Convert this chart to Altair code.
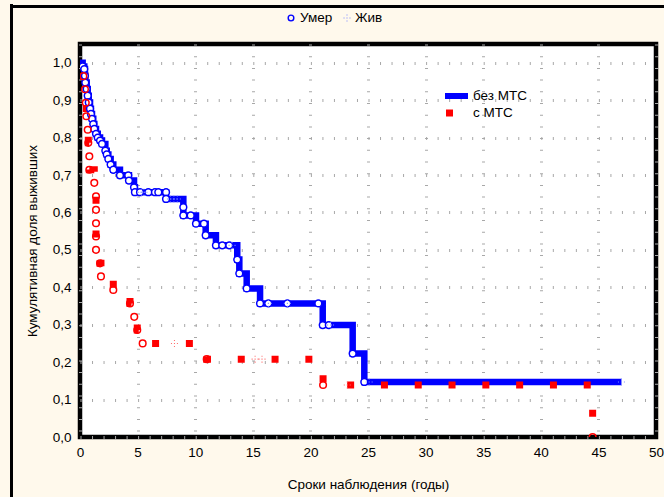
import altair as alt
import pandas as pd

# ---- group "без МТС": deaths (years, cumulative survival after the event)
bez_death_t = [0.23, 0.37, 0.43, 0.46, 0.58, 0.67, 0.76, 0.87, 0.95, 1.04,
               1.15, 1.24, 1.39, 1.54, 1.74, 1.91, 2.2, 2.32, 2.46, 2.66,
               2.89, 3.47, 4.19, 4.25, 4.69, 4.77, 5.21, 5.93, 6.51, 6.8,
               7.47, 7.47, 8.97, 8.97, 9.61, 10.07, 10.76, 10.91, 11.8, 12.35,
               12.96, 13.65, 13.83, 14.47, 15.63, 16.35, 18.0, 20.69, 21.07, 21.6,
               23.67, 24.68]
bez_death_s = [0.99, 0.983, 0.965, 0.947, 0.930, 0.912, 0.894, 0.877, 0.863, 0.850,
               0.836, 0.823, 0.810, 0.800, 0.792, 0.783, 0.765, 0.755, 0.743, 0.728,
               0.714, 0.699, 0.699, 0.685, 0.667, 0.654, 0.654, 0.654, 0.654, 0.654,
               0.654, 0.636, 0.614, 0.592, 0.592, 0.570, 0.570, 0.539, 0.512, 0.512,
               0.512, 0.474, 0.437, 0.397, 0.357, 0.357, 0.357, 0.357, 0.299, 0.299,
               0.223, 0.147]
# censored observations ("Жив")
bez_cens_t = [5.35, 5.55, 7.85, 8.15, 8.45, 13.2, 16.35, 18.0, 21.75, 25.1, 47.0]
bez_cens_s = [0.654, 0.654, 0.636, 0.636, 0.636, 0.512, 0.357, 0.357, 0.299, 0.147, 0.147]

# ---- group "с МТС"
s_death_t = [0.29, 0.43, 0.5, 0.55, 0.67, 0.72, 0.81, 0.81, 1.24, 1.39,
             1.39, 1.39, 1.39, 1.39, 1.74, 1.82, 2.89, 4.34, 4.71, 4.97,
             5.44, 11.0, 21.1, 44.5]
s_death_s = [0.964, 0.929, 0.893, 0.857, 0.821, 0.786, 0.75, 0.714, 0.679, 0.643,
             0.607, 0.571, 0.536, 0.5, 0.464, 0.429, 0.393, 0.357, 0.321, 0.286,
             0.25, 0.208, 0.139, 0.0]
s_cens_t = [8.2, 15.2, 15.8, 23.2]
s_cens_s = [0.25, 0.208, 0.208, 0.139]

x_ticks = [0, 5, 10, 15, 20, 25, 30, 35, 40, 45, 50]
y_ticks = [0.0, 0.1, 0.2, 0.3, 0.4, 0.5, 0.6, 0.7, 0.8, 0.9, 1.0]

FONT = "Liberation Sans"
FS = 13.5
BLUE = "#0000ff"
RED = "#ff0000"
CENS_SHAPE = ("M-0.15,-1H0.15V-0.7H-0.15Z M-0.15,0.7H0.15V1H-0.15Z "
              "M-1,-0.15H-0.7V0.15H-1Z M0.7,-0.15H1V0.15H0.7Z "
              "M-0.15,-0.15H0.15V0.15H-0.15Z")

# step curves start at (0, 1); "без МТС" runs on to its last censored case
bez_line = pd.DataFrame({
    "t": [0.0] + bez_death_t + [bez_cens_t[-1]],
    "s": [1.0] + bez_death_s + [bez_cens_s[-1]],
})
bez_line["o"] = range(len(bez_line))
s_line = pd.DataFrame({"t": [0.0] + s_death_t, "s": [1.0] + s_death_s})
s_line["o"] = range(len(s_line))

bez_death = pd.DataFrame({"t": bez_death_t, "s": bez_death_s})
bez_cens = pd.DataFrame({"t": bez_cens_t, "s": bez_cens_s})
s_death = pd.DataFrame({"t": s_death_t, "s": s_death_s})
s_cens = pd.DataFrame({"t": s_cens_t, "s": s_cens_s})

xs = alt.Scale(domain=[0, 50], nice=False, zero=False)
ys = alt.Scale(domain=[0, 1.05], nice=False, zero=False)

x_axis = alt.Axis(values=x_ticks, title="Сроки наблюдения (годы)", domain=False, ticks=False,
                  labelFont=FONT, labelFontSize=FS, labelColor="#000", labelPadding=8,
                  labelFlush=False,
                  titleFont=FONT, titleFontSize=FS, titleFontWeight="normal",
                  titleColor="#000", titlePadding=19,
                  grid=True, gridColor="#a8a8a8", gridWidth=3, gridDash=[1, 10.7])
y_axis = alt.Axis(values=y_ticks, title="Кумулятивная доля выживших", domain=False, ticks=False,
                  labelExpr="replace(format(datum.value, '.1f'), '.', ',')",
                  labelFont=FONT, labelFontSize=FS, labelColor="#000", labelPadding=9,
                  titleFont=FONT, titleFontSize=FS, titleFontWeight="normal",
                  titleColor="#000", titlePadding=13,
                  grid=True, gridColor="#a8a8a8", gridWidth=3, gridDash=[1, 10.52])

X = alt.X("t:Q", scale=xs, axis=x_axis)
Y = alt.Y("s:Q", scale=ys, axis=y_axis)

bez_curve = alt.Chart(bez_line).mark_line(
    interpolate="step-after", color=BLUE, strokeWidth=6.5, clip=True
).encode(x=X, y=Y, order="o:Q")

s_curve = alt.Chart(s_line).mark_line(
    interpolate="step-after", color=RED, strokeWidth=7, strokeDash=[7, 26.8],
    strokeDashOffset=19, strokeCap="butt", clip=True
).encode(x=X, y=Y, order="o:Q")

bez_pts = alt.Chart(bez_death).mark_point(
    shape="circle", size=46, filled=False, fill="white", fillOpacity=1,
    stroke=BLUE, strokeWidth=1.5, opacity=1, clip=True
).encode(x=X, y=Y)

bez_cpts = alt.Chart(bez_cens).mark_point(
    shape=CENS_SHAPE, size=49, filled=True, color="#7f8fff", opacity=1, clip=True
).encode(x=X, y=Y)

s_pts = alt.Chart(s_death).mark_point(
    shape="circle", size=44, filled=False, stroke=RED, strokeWidth=1.5, opacity=1, clip=True
).encode(x=X, y=Y)

s_cpts = alt.Chart(s_cens).mark_point(
    shape=CENS_SHAPE, size=49, filled=True, color="#ff7070", opacity=1, clip=True
).encode(x=X, y=Y)

# ---- legend above the plot: event type
top_circle = alt.Chart().mark_point(
    shape="circle", size=32, filled=False, stroke=BLUE, strokeWidth=1.4, opacity=1
).encode(x=alt.value(211), y=alt.value(-26))
top_cross = alt.Chart().mark_point(
    shape=CENS_SHAPE, size=49, filled=True, color="#7f8fff", opacity=1
).encode(x=alt.value(267), y=alt.value(-26))
top_txt1 = alt.Chart().mark_text(
    text="Умер", align="left", baseline="middle", font=FONT, fontSize=FS, color="#000"
).encode(x=alt.value(220), y=alt.value(-26))
top_txt2 = alt.Chart().mark_text(
    text="Жив", align="left", baseline="middle", font=FONT, fontSize=FS, color="#000"
).encode(x=alt.value(275), y=alt.value(-26))

# ---- legend inside the plot: groups
leg_bez = alt.Chart().mark_rule(color=BLUE, strokeWidth=6).encode(
    x=alt.value(365), x2=alt.value(388), y=alt.value(52))
leg_s = alt.Chart().mark_point(
    shape="square", size=49, filled=True, color=RED, opacity=1
).encode(x=alt.value(369.5), y=alt.value(69))
leg_txt1 = alt.Chart().mark_text(
    text="без МТС", align="left", baseline="middle", font=FONT, fontSize=FS, color="#000"
).encode(x=alt.value(393), y=alt.value(52))
leg_txt2 = alt.Chart().mark_text(
    text="с МТС", align="left", baseline="middle", font=FONT, fontSize=FS, color="#000"
).encode(x=alt.value(393), y=alt.value(69))

# ---- outer window border (left and top edges)
border_l = alt.Chart().mark_rule(color="#000", strokeWidth=3).encode(
    x=alt.value(-68.5), y=alt.value(-40), y2=alt.value(470))
border_t = alt.Chart().mark_rule(color="#000", strokeWidth=3).encode(
    x=alt.value(-70), x2=alt.value(600), y=alt.value(-37.5))

chart = alt.layer(
    bez_curve, s_curve, bez_pts, bez_cpts, s_pts, s_cpts,
    top_circle, top_cross, top_txt1, top_txt2,
    leg_bez, leg_s, leg_txt1, leg_txt2,
    border_l, border_t,
).properties(
    width=576, height=393,
    background="#fff9ec",
    padding={"left": 80, "top": 44, "right": 8, "bottom": 60},
    autosize=alt.AutoSizeParams(type="none"),
).configure_view(
    fill="white", stroke="#000", strokeWidth=4.5
)

chart.save("out.html", embed_options={"renderer": "svg", "actions": False})
